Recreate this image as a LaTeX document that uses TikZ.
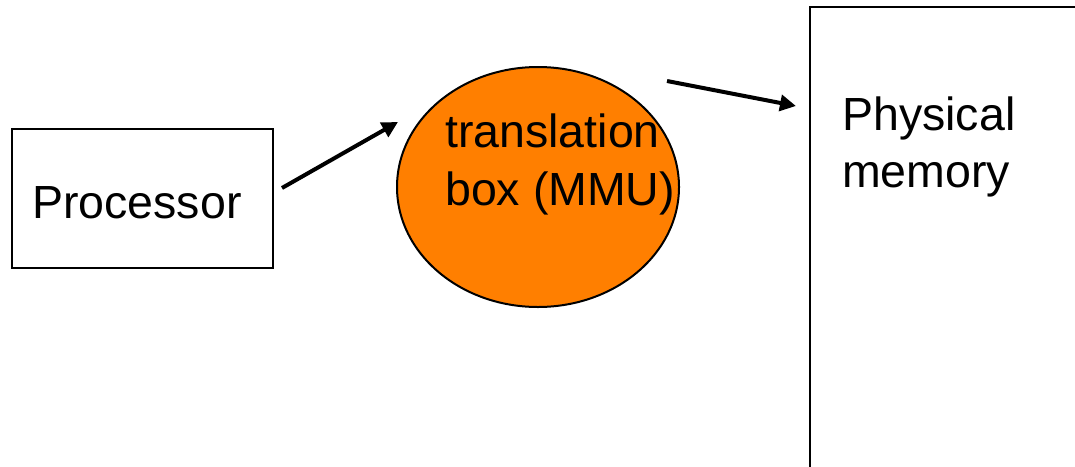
\documentclass[tikz,border=0pt]{standalone}
\usepackage{fontspec}
\setmainfont{Liberation Sans}
\usetikzlibrary{arrows.meta,shapes.geometric}
\definecolor{mmuorange}{HTML}{FF7F00}
\tikzset{
  box/.style={draw=black,line width=2pt,fill=white},
  conn/.style={line width=4pt,-{Triangle[length=16pt,width=16pt]}},
  lbl/.style={font=\fontsize{46.5pt}{57pt}\selectfont,inner sep=0pt,align=left,anchor=base west}
}
\begin{document}
\begin{tikzpicture}[x=1pt,y=-1pt]
\useasboundingbox (0,0) rectangle (1075,466);
\clip (0,0) rectangle (1075,466);
% processor
\draw[box] (12,129) rectangle (273,268);
\node[lbl] (proc) at (32,218) {Processor};
% MMU
\node[draw=black,line width=2pt,fill=mmuorange,ellipse,minimum width=282pt,minimum height=240pt,inner sep=0pt] (mmu) at (538,187) {};
\node[lbl] (t1) at (445,147) {translation};
\node[lbl] (t2) at (445,205) {box (MMU)};
% memory
\draw[box] (810,7) rectangle (1110,520);
\node[lbl] (m1) at (842,130) {Physical};
\node[lbl] (m2) at (842,187) {memory};
% connectors
\coordinate (a1s) at (282,188);
\coordinate (a1e) at (398,122);
\coordinate (a2s) at (667,81);
\coordinate (a2e) at (796,106);
\draw[conn] (a1s) -- (a1e);
\draw[conn] (a2s) -- (a2e);
\end{tikzpicture}
\end{document}
